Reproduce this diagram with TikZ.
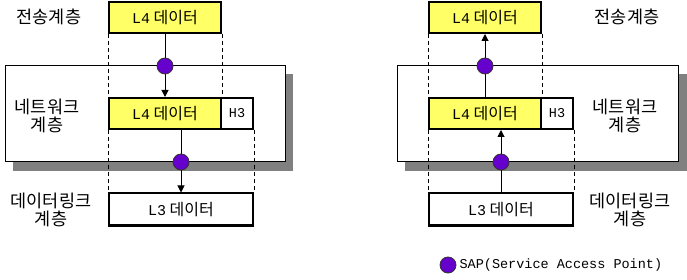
\documentclass[tikz,border=0pt]{standalone}
\usepackage{fontspec}
\newfontfamily\kr{Noto Sans CJK KR}
\newfontfamily\mono{Liberation Mono}
\usetikzlibrary{arrows.meta}
\definecolor{sapc}{HTML}{6600CC}
\definecolor{boxy}{HTML}{FFFF66}
\definecolor{shad}{HTML}{808080}
\tikzset{
  databox/.style={draw=black, line width=2pt, fill=boxy, minimum width=112pt, minimum height=31pt, inner sep=0pt, font=\kr\fontsize{16}{18}\selectfont},
  hbox/.style={draw=black, line width=2pt, fill=white, minimum width=32pt, minimum height=31pt, inner sep=0pt, font=\mono\fontsize{13.5}{15}\selectfont},
  lbox/.style={draw=black, line width=2pt, fill=white, minimum width=144pt, minimum height=32pt, inner sep=0pt, font=\kr\fontsize{16}{18}\selectfont},
  sap/.style={circle, draw=black!80, line width=0.8pt, fill=sapc, minimum size=16pt, inner sep=0pt},
  netbox/.style={draw=black, line width=1pt, fill=white},
  shadowbox/.style={fill=shad, draw=none},
  guide/.style={dashed, line width=0.7pt, dash pattern=on 4pt off 3pt},
  arr/.style={line width=1pt, -{Triangle[length=7pt,width=7pt]}},
  lbl/.style={font=\kr\fontsize{17.5}{18}\selectfont, align=center, inner sep=0pt},
}
\newcommand{\Lfour}{{\mono\fontsize{15}{16}\selectfont L4} 데이터}
\newcommand{\Lthree}{{\mono\fontsize{15}{16}\selectfont L3} 데이터}
\begin{document}
\begin{tikzpicture}[x=1pt,y=-1pt]
\useasboundingbox (0,0) rectangle (687,280);
% ---- left ----
\fill[shadowbox] (13,74) rectangle (293,171);
\draw[netbox] (5,66) rectangle (285,162);
\node[databox] (t1) at (165,17.5) {\Lfour};
\node[databox] (m1) at (165,113.5) {\Lfour};
\node[hbox] (h1) at (237,113.5) {H3};
\node[lbox] (l1) at (181,209.5) {\Lthree};
\draw[guide] (t1.south west) -- (m1.north west);
\draw[guide] (t1.south east) -- (m1.north east);
\draw[guide] (m1.south west) -- (l1.north west);
\draw[guide] (h1.south east) -- (l1.north east);
\draw[arr] (t1.south) -- (m1.north);
\draw[arr] (m1.south -| l1.north) -- (l1.north);
\node[sap] (s1a) at (165,66) {};
\node[sap] (s1b) at (181,162) {};
\node[lbl] (lt1) at (49,17) {전송계층};
\node[lbl] (ln1) at (47,116) {네트워크\\계층};
\node[lbl] (ld1) at (51,210) {데이터링크\\계층};
% ---- right ----
\fill[shadowbox] (405,74) rectangle (687,171);
\draw[netbox] (397,66) rectangle (678,162);
\node[databox] (t2) at (485,17.5) {\Lfour};
\node[databox] (m2) at (485,113.5) {\Lfour};
\node[hbox] (h2) at (557,113.5) {H3};
\node[lbox] (l2) at (501,209.5) {\Lthree};
\draw[guide] (t2.south west) -- (m2.north west);
\draw[guide] (t2.south east) -- (m2.north east);
\draw[guide] (m2.south west) -- (l2.north west);
\draw[guide] (h2.south east) -- (l2.north east);
\draw[arr] (m2.north) -- (t2.south);
\draw[arr] (l2.north) -- (l2.north |- m2.south);
\node[sap] (s2a) at (485,66) {};
\node[sap] (s2b) at (501,162) {};
\node[lbl] (lt2) at (627,17) {전송계층};
\node[lbl] (ln2) at (625,116) {네트워크\\계층};
\node[lbl] (ld2) at (630,210) {데이터링크\\계층};
% ---- legend ----
\node[sap] (leg) at (448,265) {};
\node[anchor=west, inner sep=0pt, font=\mono\fontsize{13.5}{15}\selectfont] (legt) at ([xshift=3pt]leg.east) {SAP(Service Access Point)};
\end{tikzpicture}
\end{document}
